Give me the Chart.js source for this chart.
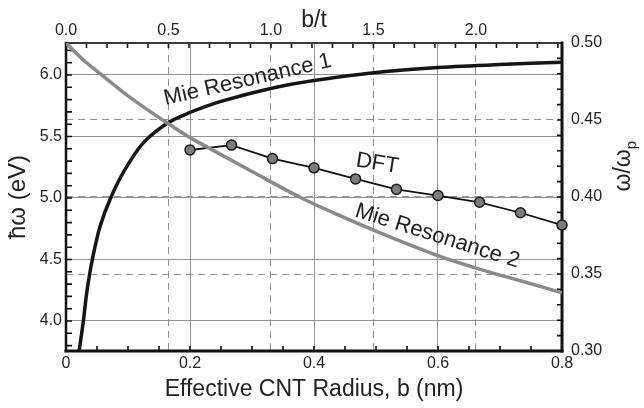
<!DOCTYPE html>
<html>
<head>
<meta charset="utf-8">
<script src="https://cdn.jsdelivr.net/npm/chart.js@4.4.1/dist/chart.umd.min.js"></script>
<style>
  html, body { margin: 0; padding: 0; background: #fff; }
  canvas { display: block; }
</style>
</head>
<body>
<canvas id="plot" width="644" height="408"></canvas>
<script>
// Mie resonance 1: effective radius b (nm) -> photon energy (eV)
const mie1Radius = [0.021, 0.028, 0.034, 0.0425, 0.055, 0.072, 0.095, 0.125, 0.164, 0.2, 0.25, 0.33, 0.4, 0.5, 0.6, 0.7, 0.8];
const mie1Energy = [3.75, 4.00, 4.25, 4.50, 4.77, 5.00, 5.23, 5.45, 5.61, 5.695, 5.785, 5.89, 5.955, 6.02, 6.06, 6.085, 6.103];

// Mie resonance 2
const mie2Radius = [0, 0.028, 0.0576, 0.1, 0.164, 0.197, 0.216, 0.3, 0.38, 0.44, 0.5, 0.603, 0.668, 0.727, 0.8];
const mie2Energy = [6.26, 6.122, 6.00, 5.83, 5.607, 5.50, 5.446, 5.215, 5.00, 4.86, 4.73, 4.525, 4.42, 4.335, 4.23];

// DFT results
const dftRadius = [0.2, 0.267, 0.333, 0.4, 0.467, 0.533, 0.6, 0.667, 0.733, 0.8];
const dftEnergy = [5.39, 5.43, 5.32, 5.245, 5.155, 5.07, 5.02, 4.965, 4.88, 4.78];

// Axis tick labels
const radiusTicks = [0, 0.2, 0.4, 0.6, 0.8];
const ratioTicks = [0.0, 0.5, 1.0, 1.5, 2.0];
const energyTicks = [4.0, 4.5, 5.0, 5.5, 6.0];
const freqTicks = [0.30, 0.35, 0.40, 0.45, 0.50];

// Shell thickness t (nm) and plasma energy (eV) linking the twin axes
const shellThickness = 0.3306;
const plasmaEnergy = 12.52;
const radiusMax = 0.8;
const energyMin = 3.756;
const energyMax = 6.26;

const FONT = "'Liberation Sans', Arial, Helvetica, sans-serif";
const INK = '#222';
const GRID = '#939393';

const pairs = (xs, ys) => xs.map((x, i) => ({ x, y: ys[i] }));
const fixedTicks = vals => scale => { scale.ticks = vals.map(v => ({ value: v })); };
const innerGrid = ctx => {
  const s = ctx.scale;
  const v = ctx.tick ? ctx.tick.value : NaN;
  const span = s.max - s.min;
  return (Math.abs(v - s.min) < span * 1e-3 || Math.abs(v - s.max) < span * 1e-3) ? 'rgba(0,0,0,0)' : GRID;
};

// Frame and inward tick marks, painted below the curves
const frameAndTicks = {
  id: 'frameAndTicks',
  beforeDatasetsDraw(chart) {
    const { ctx, chartArea: a, scales } = chart;
    ctx.save();
    ctx.strokeStyle = '#111';
    ctx.lineWidth = 1.6;
    const run = (scale, step, fn) => {
      const n0 = Math.ceil(scale.min / step - 1e-6);
      const n1 = Math.floor(scale.max / step + 1e-6);
      for (let n = n0; n <= n1; n++) fn(scale.getPixelForValue(n * step));
    };
    ctx.beginPath();
    run(scales.x, 0.05, p => { ctx.moveTo(p, a.bottom); ctx.lineTo(p, a.bottom - 5); });
    run(scales.x2, 0.1, p => { ctx.moveTo(p, a.top); ctx.lineTo(p, a.top + 5); });
    run(scales.y, 0.1, p => { ctx.moveTo(a.left, p); ctx.lineTo(a.left + 6, p); });
    run(scales.y2, 0.01, p => { ctx.moveTo(a.right, p); ctx.lineTo(a.right - 5, p); });
    ctx.stroke();

    ctx.lineCap = 'square';
    ctx.strokeStyle = '#3a3a3a';
    ctx.lineWidth = 2;
    ctx.beginPath(); ctx.moveTo(a.left, a.top); ctx.lineTo(a.right, a.top); ctx.stroke();
    ctx.strokeStyle = '#111';
    ctx.lineWidth = 2.5;
    ctx.beginPath(); ctx.moveTo(a.left, a.top); ctx.lineTo(a.left, a.bottom); ctx.stroke();
    ctx.lineWidth = 3;
    ctx.beginPath(); ctx.moveTo(a.left, a.bottom); ctx.lineTo(a.right, a.bottom); ctx.stroke();
    ctx.beginPath(); ctx.moveTo(a.right, a.top); ctx.lineTo(a.right, a.bottom); ctx.stroke();
    ctx.restore();
  }
};

// Curve names written along the curves, and the right-hand axis title
const annotations = {
  id: 'annotations',
  afterDatasetsDraw(chart) {
    const { ctx, scales } = chart;
    const notes = [
      { text: 'Mie Resonance 1', b: 0.293, e: 5.96, deg: -13 },
      { text: 'DFT', b: 0.502, e: 5.28, deg: 9 },
      { text: 'Mie Resonance 2', b: 0.599, e: 4.69, deg: 17.5 }
    ];
    ctx.save();
    ctx.fillStyle = INK;
    ctx.font = `22px ${FONT}`;
    ctx.textAlign = 'center';
    ctx.textBaseline = 'middle';
    for (const n of notes) {
      ctx.save();
      ctx.translate(scales.x.getPixelForValue(n.b), scales.y.getPixelForValue(n.e));
      ctx.rotate(n.deg * Math.PI / 180);
      ctx.fillText(n.text, 0, 0);
      ctx.restore();
    }
    ctx.restore();
  },
  afterDraw(chart) {
    const { ctx, scales } = chart;
    ctx.save();
    ctx.fillStyle = INK;
    ctx.translate(624, scales.y2.getPixelForValue(0.42));
    ctx.rotate(-Math.PI / 2);
    ctx.textBaseline = 'middle';
    ctx.textAlign = 'left';
    ctx.font = `23px ${FONT}`;
    const main = 'ω/ω';
    const w1 = ctx.measureText(main).width;
    ctx.font = `15px ${FONT}`;
    const w2 = ctx.measureText('p').width;
    const x0 = -(w1 + w2) / 2;
    ctx.font = `23px ${FONT}`;
    ctx.fillText(main, x0, 0);
    ctx.font = `15px ${FONT}`;
    ctx.fillText('p', x0 + w1, 8);
    ctx.restore();
  }
};

const tickFont = { family: FONT, size: 16 };
const titleFont = { family: FONT, size: 23 };

new Chart(document.getElementById('plot'), {
  type: 'line',
  data: {
    datasets: [
      {
        label: 'Mie Resonance 2',
        data: pairs(mie2Radius, mie2Energy),
        borderColor: '#8a8a8a',
        borderWidth: 3.5,
        pointRadius: 0,
        cubicInterpolationMode: 'monotone',
        clip: { left: 0, top: 0, right: 0, bottom: 0 },
        xAxisID: 'x', yAxisID: 'y'
      },
      {
        label: 'Mie Resonance 1',
        data: pairs(mie1Radius, mie1Energy),
        borderColor: '#151515',
        borderWidth: 3.5,
        pointRadius: 0,
        tension: 0.35,
        clip: { left: 0, top: 0, right: 0, bottom: 0 },
        xAxisID: 'x', yAxisID: 'y'
      },
      {
        label: 'DFT',
        data: pairs(dftRadius, dftEnergy),
        borderColor: '#111',
        borderWidth: 1.8,
        pointRadius: 5,
        pointBorderWidth: 1.5,
        pointBackgroundColor: '#7c7c7c',
        pointBorderColor: '#1a1a1a',
        tension: 0,
        clip: false,
        xAxisID: 'x', yAxisID: 'y'
      }
    ]
  },
  options: {
    responsive: false,
    animation: false,
    devicePixelRatio: 1,
    layout: { padding: 0 },
    plugins: { legend: { display: false }, tooltip: { enabled: false } },
    scales: {
      x: {
        type: 'linear', position: 'bottom', min: 0, max: radiusMax,
        afterBuildTicks: fixedTicks(radiusTicks),
        afterFit: s => { s.height = 57; },
        grid: { drawTicks: false, color: innerGrid, lineWidth: 1 },
        border: { display: false },
        ticks: { padding: 3, color: INK, font: tickFont, maxRotation: 0, autoSkip: false,
                 callback: v => v === 0 ? '0' : v.toFixed(1) },
        title: { display: true, text: 'Effective CNT Radius, b (nm)', color: INK, font: titleFont,
                 padding: { top: 0, bottom: 5 } }
      },
      x2: {
        type: 'linear', position: 'top', min: 0, max: radiusMax / shellThickness,
        afterBuildTicks: fixedTicks(ratioTicks),
        afterFit: s => { s.height = 43; },
        grid: { drawTicks: false, color: innerGrid, lineWidth: 1 },
        border: { display: false, dash: [7, 5] },
        ticks: { padding: 3, color: INK, font: tickFont, maxRotation: 0, autoSkip: false,
                 callback: v => v.toFixed(1) },
        title: { display: true, text: 'b/t', color: INK, font: titleFont, padding: { top: 7, bottom: 0 } }
      },
      y: {
        type: 'linear', position: 'left', min: energyMin, max: energyMax,
        afterBuildTicks: fixedTicks(energyTicks),
        afterFit: s => { s.width = 66; },
        grid: { drawTicks: false, color: innerGrid, lineWidth: 1 },
        border: { display: false },
        ticks: { padding: 4, color: INK, font: tickFont, callback: v => v.toFixed(1) },
        title: { display: true, text: 'ħω (eV)', color: INK, font: { family: FONT, size: 24 }, padding: { top: 4, bottom: 0 } }
      },
      y2: {
        type: 'linear', position: 'right', min: energyMin / plasmaEnergy, max: energyMax / plasmaEnergy,
        afterBuildTicks: fixedTicks(freqTicks),
        afterFit: s => { s.width = 82; },
        grid: { drawTicks: false, color: innerGrid, lineWidth: 1 },
        border: { display: false, dash: [7, 5] },
        ticks: { padding: 9, color: INK, font: tickFont, callback: v => v.toFixed(2) },
        title: { display: false }
      }
    }
  },
  plugins: [frameAndTicks, annotations]
});
</script>
</body>
</html>
